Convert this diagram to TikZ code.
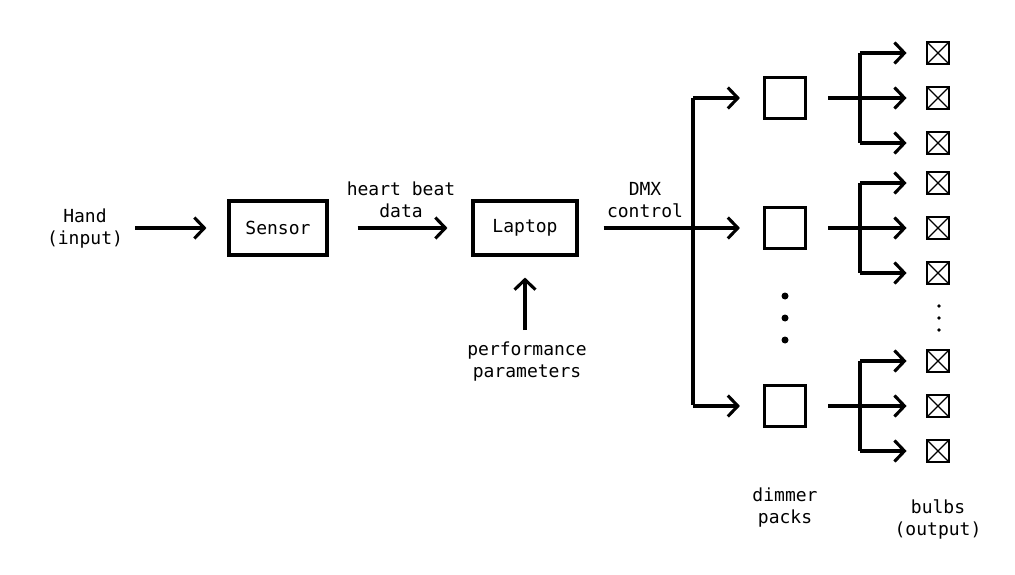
\documentclass[tikz,border=0pt]{standalone}
\usepackage{fontspec}
\setmainfont{DejaVu Sans Mono}
\usetikzlibrary{arrows.meta}
\tikzset{
  ln/.style={line width=3.1pt},
  arr/.style={ln, -{Straight Barb[length=10pt,width=21pt,line width=3.1pt]}},
  blk/.style={draw, line width=3.1pt, minimum height=54pt, inner sep=0pt},
  dim/.style={draw, line width=3.1pt, minimum size=41pt, inner sep=0pt},
  bulb/.style={draw, line width=2.8pt, minimum size=22pt, inner sep=0pt,
    path picture={\draw[line width=1.2pt] (path picture bounding box.north west) -- (path picture bounding box.south east)
      (path picture bounding box.north east) -- (path picture bounding box.south west);}},
  lbl/.style={align=center, font=\fontsize{18}{22}\selectfont, inner sep=2pt},
  bigdot/.style={circle, fill, inner sep=0pt, minimum size=7pt},
  smalldot/.style={circle, fill, inner sep=0pt, minimum size=3.6pt}
}
\begin{document}
\begin{tikzpicture}[x=1pt,y=-1pt]
\useasboundingbox (0,0) rectangle (1015,575);
% main chain
\node[lbl] (hand) at (85,229) {Hand\\(input)};
\node[blk, minimum width=98pt, lbl, inner sep=0pt] (sensor) at (278,228) {Sensor};
\node[blk, minimum width=104pt, lbl, inner sep=0pt] (laptop) at (525,228) {Laptop};
\node[lbl] (hb) at (401,200) {heart beat\\data};
\node[lbl] (dmx) at (645,200) {DMX\\control};
\node[lbl] (perf) at (527,362) {performance\\parameters};
\draw[arr, shorten <=10pt, shorten >=21pt] (hand.east |- sensor) -- (sensor);
\draw[arr, shorten <=29pt, shorten >=24pt] (sensor) -- (laptop);
\draw[arr, shorten <=10pt, shorten >=21pt] (perf.north -| laptop) -- (laptop);
% bus
\coordinate (bt) at (693,98);
\coordinate (bb) at (693,405);
\draw[ln, shorten <=25pt] (laptop.east) -- (bt |- laptop.east);
\draw[ln] (bt) -- (bb);
% dimmers
\node[dim] (d1) at (785,98) {};
\node[dim] (d2) at (785,228) {};
\node[dim] (d3) at (785,406) {};
\draw[arr, shorten >=23pt] (bt) -- (d1);
\draw[arr, shorten >=23pt] (bt |- d2) -- (d2);
\draw[arr, shorten >=23pt] (bt |- d3) -- (d3);
\node[bigdot] (dd1) at (785,296) {};
\node[bigdot] (dd2) at (785,318) {};
\node[bigdot] (dd3) at (785,340) {};
% bulbs
\foreach \g/\y in {1/98,2/228,3/406}{
  \node[bulb] (b\g1) at (938,\y-45) {};
  \node[bulb] (b\g2) at (938,\y) {};
  \node[bulb] (b\g3) at (938,\y+45) {};
  \coordinate (j\g t) at (860,\y-45);
  \coordinate (j\g b) at (860,\y+45);
  \draw[ln] (j\g t) -- (j\g b);
  \draw[arr, shorten <=21pt, shorten >=19pt] (d\g) -- (b\g2);
  \draw[arr, shorten >=19pt] (j\g t) -- (b\g1);
  \draw[arr, shorten >=19pt] (j\g b) -- (b\g3);
}
\node[smalldot] (bd1) at (939,306) {};
\node[smalldot] (bd2) at (939,318) {};
\node[smalldot] (bd3) at (939,330) {};
\node[lbl] (dp) at (785,508) {dimmer\\packs};
\node[lbl] (bo) at (938,519) {bulbs\\(output)};
\end{tikzpicture}
\end{document}
